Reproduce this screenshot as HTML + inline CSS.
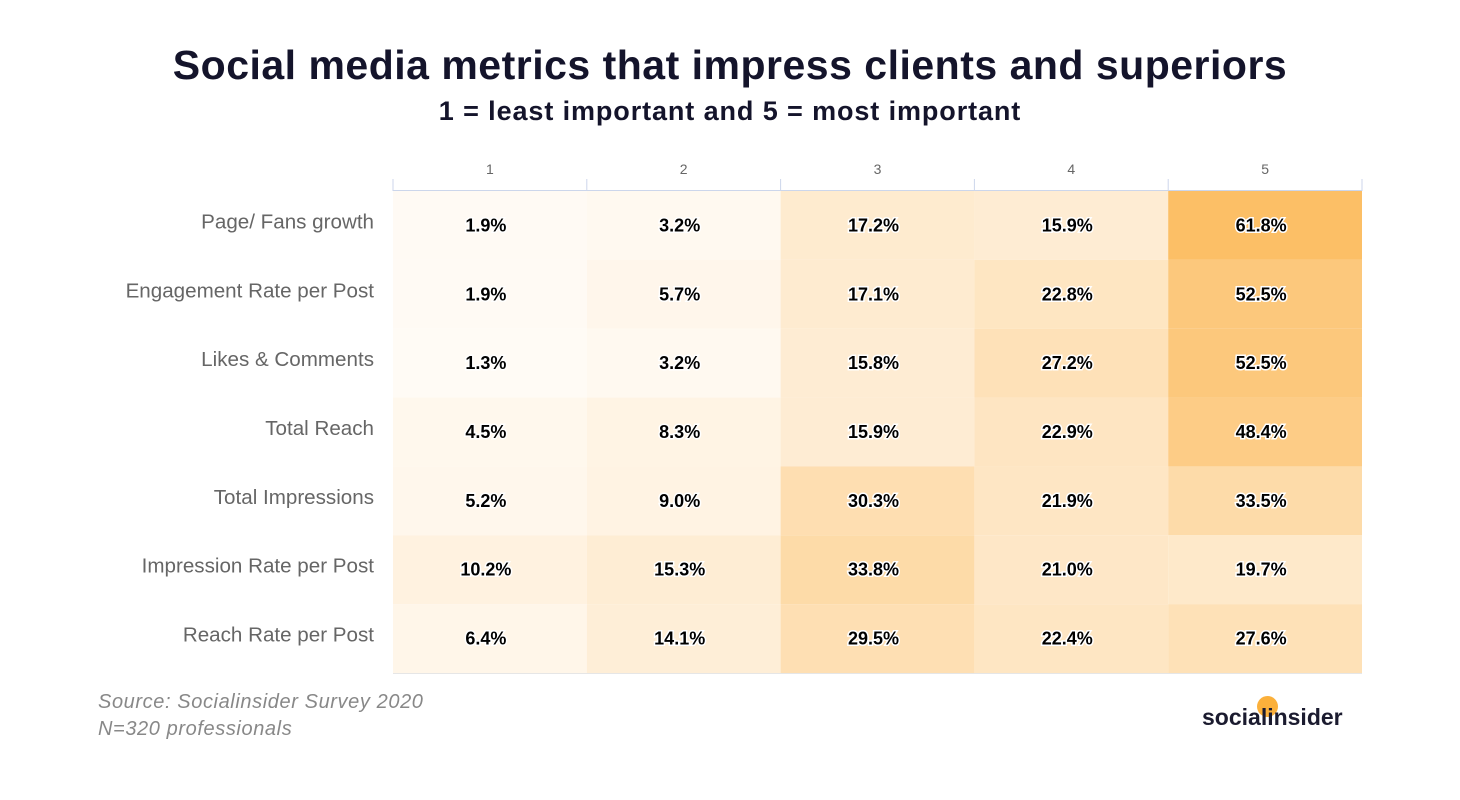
<!DOCTYPE html>
<html><head><meta charset="utf-8"><style>
body{margin:0;background:#fff;width:1460px;height:800px;overflow:hidden;font-family:"Liberation Sans",sans-serif}
.t{position:absolute;left:0;width:1460px;text-align:center;color:#14142b;font-family:"Liberation Sans",sans-serif;font-weight:bold}
</style></head><body>
<div class="t" style="top:42px;font-size:41px;letter-spacing:0.5px">Social media metrics that impress clients and superiors</div>
<div class="t" style="top:96px;font-size:27px;letter-spacing:0.9px">1 = least important and 5 = most important</div>
<svg id="c" width="1460" height="800" style="position:absolute;left:0;top:0"></svg>
<div style="position:absolute;left:98px;top:689px;font-size:20px;font-style:italic;color:#888;line-height:27px;letter-spacing:0.6px">Source: Socialinsider Survey 2020<br>N=320 professionals</div>
<div style="position:absolute;left:1202px;top:704px;font-size:23px;font-weight:bold;color:#1b1b2f">
<span style="position:absolute;left:55px;top:-8px;width:21px;height:21px;border-radius:50%;background:#fbb03b;z-index:-1"></span>socialinsider</div>
<script>
const categories=["Page/ Fans growth","Engagement Rate per Post","Likes & Comments","Total Reach","Total Impressions","Impression Rate per Post","Reach Rate per Post"];
const columns=["1","2","3","4","5"];
const values=[
[1.9,3.2,17.2,15.9,61.8],
[1.9,5.7,17.1,22.8,52.5],
[1.3,3.2,15.8,27.2,52.5],
[4.5,8.3,15.9,22.9,48.4],
[5.2,9.0,30.3,21.9,33.5],
[10.2,15.3,33.8,21.0,19.7],
[6.4,14.1,29.5,22.4,27.6]];
const svg=document.getElementById('c'),NS='http://www.w3.org/2000/svg';
const x0=393,x1=1362,y0=191,y1=673;
const cw=(x1-x0)/columns.length,rh=(y1-y0)/categories.length;
const xs=i=>x0+i*cw, ys=j=>y0+j*rh;
const lo=[255,252,248],hi=[252,191,102],vmax=62;
function col(v){const t=Math.min(v/vmax,1);return 'rgb('+lo.map((a,k)=>Math.round(a+(hi[k]-a)*t)).join(',')+')';}
function el(n,a){const e=document.createElementNS(NS,n);for(const k in a)e.setAttribute(k,a[k]);svg.appendChild(e);return e;}
values.forEach((row,j)=>row.forEach((v,i)=>{
 const r=el('rect',{x:xs(i),y:ys(j),width:cw,height:rh,fill:col(v)});
 
 
 const t=el('text',{x:xs(i)+cw/2-4,y:ys(j)+rh/2+6,'text-anchor':'middle','font-size':18,'font-weight':'bold',fill:'#000',stroke:'#fff','stroke-width':3,'paint-order':'stroke'});
 t.textContent=v.toFixed(1)+'%';
 
 
}));
categories.forEach((c,j)=>{
 const t=el('text',{x:374,y:ys(j)+rh/2+3,'text-anchor':'end','font-size':20.6,fill:'#666'});
 t.textContent=c;
 
 
});
el('line',{x1:x0,x2:x1,y1:y0-0.5,y2:y0-0.5,stroke:'#ccd6eb'});
el('line',{x1:x0,x2:x1,y1:y1+0.5,y2:y1+0.5,stroke:'#e6e6e6'});
for(let i=0;i<=columns.length;i++){el('line',{x1:xs(i),x2:xs(i),y1:y0-12,y2:y0,stroke:'#ccd6eb'});}
columns.forEach((c,i)=>{
 const t=el('text',{x:xs(i)+cw/2,y:174,'text-anchor':'middle','font-size':14,fill:'#666'});
 t.textContent=c;
 
 
});
</script>
</body></html>
